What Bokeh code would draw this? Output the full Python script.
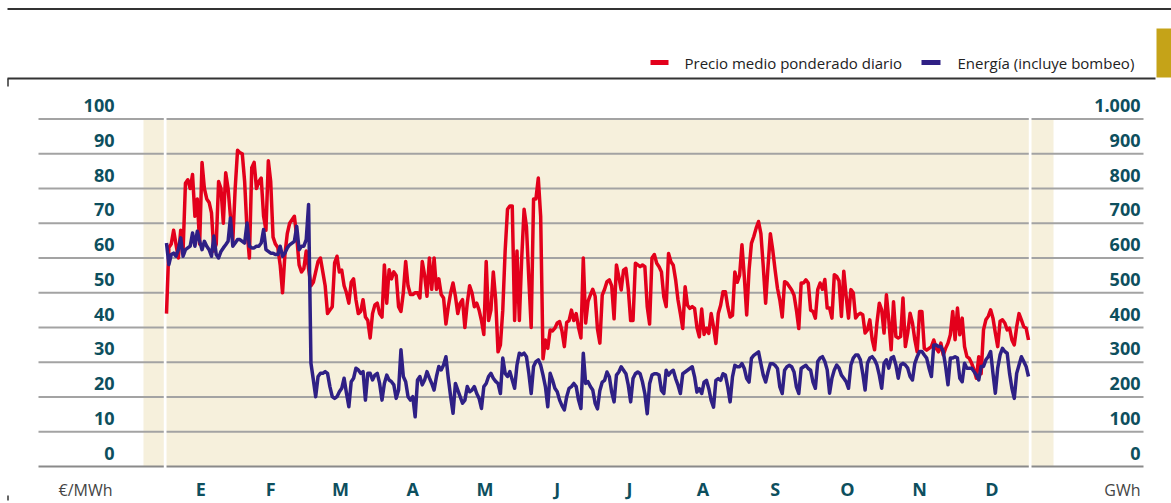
from bokeh.plotting import figure
from bokeh.models import Range1d
from bokeh.core.properties import value
from bokeh.embed import file_html
from bokeh.resources import INLINE

# ---------------- data ----------------
# Precio medio ponderado diario (EUR/MWh), one value per day
price_jan = [44, 63, 64, 68, 64, 60, 68, 62, 81.5, 82.5, 80, 84, 72, 77, 64, 87.5, 80, 77, 76, 73,
             62, 64, 82, 80, 70, 84.5, 80, 72, 65, 80, 91]
price_feb = [90.3, 90, 82, 68, 60, 86, 87.5, 80, 82, 83, 72, 68, 88, 82, 66, 64, 63, 58, 50, 61,
             67, 70, 71, 72, 66, 58, 56, 57]
price_mar = [62, 57, 52, 53, 56, 59, 60, 56, 52, 44, 45, 46, 58.6, 60.5, 56, 56.5, 52, 50, 47, 53,
             54, 48, 44, 44.6, 48, 43, 42, 37, 44, 46.5, 47]
price_apr = [44, 43, 58, 47, 56.6, 54, 56, 55, 46, 44.6, 50, 59, 52, 49.5, 49.5, 50, 50, 48.5, 59, 55,
             49, 60, 51, 60, 51, 54, 49.5, 48.5, 41, 46]
price_may = [50, 52.8, 49, 44, 47, 48, 40, 47, 52, 50, 46, 47, 45, 42, 38, 59, 42, 45, 56, 48,
             33, 35, 45, 62, 74, 75, 75, 42, 62, 42, 60]
price_jun = [74, 69, 54, 40, 77, 77, 83, 72, 31, 36.4, 34, 39.3, 39, 39.8, 41.3, 41.7, 39, 34.5, 41.5, 42,
             45, 42, 44, 40, 37, 60, 41.3, 47.5, 49.4, 51]
price_jul = [49, 39.5, 35.5, 49.3, 51, 53.2, 53.7, 52, 42.5, 58, 54.6, 50.8, 56.5, 57, 51, 42, 42, 58.5, 58, 57.5,
             58, 57.5, 46, 41, 60, 61, 58.5, 57.5, 56, 48.8, 46]
price_aug = [61.3, 58.9, 57.9, 53.7, 47.9, 44, 39.7, 51.7, 46.4, 45.5, 46, 45.5, 40, 37.3, 45.3, 38, 39.8, 38.3, 44, 40.2,
             35.4, 44, 46.4, 50.3, 50.3, 46, 43, 43.5, 56, 53, 55]
price_sep = [63.8, 54.6, 43.6, 56.5, 64.2, 66.2, 68.6, 70.5, 67, 57.5, 47, 57.5, 67, 62.3, 56.5, 51.3, 47.9, 43, 53.2, 52.8,
             51.8, 50.8, 49.3, 45, 39.7, 52.8, 52.8, 53.7, 52.8, 45]
price_oct = [44.6, 42.7, 50.9, 52.8, 51, 53.8, 45.6, 45.6, 42.7, 55.2, 54.7, 53.4, 43.2, 56.2, 49, 42.7, 50.9, 50, 42.7, 43.7,
             44.1, 43.7, 38.4, 39.3, 42.2, 36.5, 33.6, 41.3, 47, 45.1, 38.4]
price_nov = [49.4, 42.2, 33.6, 47.4, 37.4, 37, 37.4, 48.5, 34.5, 38.4, 44.1, 41.3, 36.5, 33, 44.6, 44.6, 34, 33.5, 34, 34.5,
             36.4, 34, 33, 35.5, 32.1, 34, 35.5, 37.9, 44.6, 36.5]
price_dec = [45.6, 37.9, 42.7, 34.5, 31.6, 31.1, 29.7, 27.8, 25.4, 31.6, 26.7, 39.3, 42.2, 43.2, 45.1, 42.7, 38.4, 34.5, 41.8, 42.2,
             41.3, 39.3, 39.8, 36.4, 35, 40.2, 44, 42.2, 40.2, 39.8, 36.4]

# Energia (incluye bombeo), GWh per day
energy_jan = [643, 581, 610, 614, 605, 624, 658, 605, 624, 629, 634, 672, 634, 677, 648, 624, 648, 634, 624, 605,
              663, 610, 600, 619, 629, 638, 648, 715, 634, 643, 653]
energy_feb = [653, 648, 643, 701, 634, 629, 629, 634, 634, 643, 682, 624, 619, 614, 614, 610, 610, 634, 605, 614,
              629, 638, 643, 648, 691, 624, 634, 634]
energy_mar = [653, 754, 297, 250, 201, 259, 268, 268, 273, 268, 230, 201, 196, 201, 215, 225, 254, 211, 172, 244,
              254, 283, 278, 268, 273, 191, 268, 268, 249, 263, 268]
energy_apr = [239, 191, 239, 263, 249, 244, 235, 196, 220, 336, 259, 244, 201, 191, 201, 143, 249, 259, 235, 249,
              273, 255, 239, 220, 259, 288, 278, 292, 316, 254]
energy_may = [201, 153, 239, 220, 201, 182, 191, 230, 215, 220, 230, 210, 196, 167, 230, 239, 259, 268, 254, 245,
              239, 210, 312, 268, 259, 273, 249, 225, 292, 326, 321]
energy_jun = [326, 316, 268, 210, 288, 302, 307, 292, 263, 230, 172, 268, 249, 225, 215, 191, 175, 163, 201, 225,
              230, 239, 230, 191, 167, 326, 239, 244, 230, 220]
energy_jul = [182, 166, 219, 243, 248, 272, 258, 214, 186, 263, 272, 287, 277, 267, 234, 186, 253, 267, 272, 267,
              243, 210, 152, 238, 263, 267, 267, 263, 219, 210, 277]
energy_aug = [263, 272, 277, 253, 234, 210, 267, 272, 277, 282, 287, 258, 214, 224, 210, 243, 248, 224, 190, 171,
              248, 253, 248, 267, 263, 229, 186, 258, 291, 287, 287]
energy_sep = [296, 282, 253, 243, 311, 320, 325, 330, 296, 263, 243, 272, 296, 296, 291, 282, 229, 210, 277, 287,
              291, 287, 272, 229, 210, 282, 287, 291, 282, 277]
energy_oct = [243, 225, 302, 312, 316, 302, 278, 211, 254, 278, 292, 283, 263, 254, 244, 225, 292, 312, 321, 321,
              307, 268, 220, 297, 312, 316, 307, 292, 263, 225, 297]
energy_nov = [307, 283, 312, 316, 292, 254, 292, 297, 292, 283, 259, 249, 297, 316, 331, 331, 321, 312, 283, 259,
              350, 350, 345, 345, 331, 288, 235, 312, 312, 316]
energy_dec = [312, 254, 244, 297, 283, 283, 283, 273, 263, 249, 288, 288, 307, 316, 331, 268, 211, 283, 321, 340,
              331, 326, 268, 225, 196, 268, 292, 316, 302, 288, 259]

months = ["E", "F", "M", "A", "M", "J", "J", "A", "S", "O", "N", "D"]
price_ticks = [0, 10, 20, 30, 40, 50, 60, 70, 80, 90, 100]
energy_tick_labels = ["0", "100", "200", "300", "400", "500", "600", "700", "800", "900", "1.000"]
legend_labels = ["Precio medio ponderado diario", "Energía (incluye bombeo)"]

price = (price_jan + price_feb + price_mar + price_apr + price_may + price_jun +
         price_jul + price_aug + price_sep + price_oct + price_nov + price_dec)
energy = (energy_jan + energy_feb + energy_mar + energy_apr + energy_may + energy_jun +
          energy_jul + energy_aug + energy_sep + energy_oct + energy_nov + energy_dec)
days = list(range(len(price)))
month_len = [31, 28, 31, 30, 31, 30, 31, 31, 30, 31, 30, 31]

# ---------------- layout helpers (picture pixels -> data units) ----------------
W, H = 1171, 503
PX0, PXD = 166.0, (1028.0 - 166.0) / 364.0
PY0, PYV = 466.0, 3.475


def X(px):
    return (px - PX0) / PXD


def Y(py):
    return (PY0 - py) / PYV


RED = "#E3001B"
BLUE = "#2F2085"
TEAL = "#0D4F5E"
BEIGE = "#F6F0DC"
GRID = "#A3A3A3"
GOLD = "#C5A318"
FONT = value("Open Sans")

p = figure(width=W, height=H, output_backend="svg", toolbar_location=None,
           x_range=Range1d(X(0), X(W)), y_range=Range1d(Y(H), Y(0)),
           x_axis_type=None, y_axis_type=None, min_border=0)
p.extra_y_ranges = {"gwh": Range1d(Y(H) * 10, Y(0) * 10)}
p.grid.visible = False
p.outline_line_color = None
p.background_fill_color = "white"
p.border_fill_color = "white"

# beige plot band
p.quad(left=[X(143)], right=[X(1053)], top=[Y(118.5)], bottom=[0], color=BEIGE, line_color=None)

# horizontal grid lines
gx0, gx1 = X(38), X(1143)
p.segment(x0=[gx0] * 10, x1=[gx1] * 10, y0=price_ticks[1:], y1=price_ticks[1:],
          line_color=GRID, line_width=2)
p.segment(x0=[gx0], x1=[gx1], y0=[0], y1=[0], line_color="#8A8A8A", line_width=2)

# white separators
p.quad(left=[X(163.3), X(1028.3)], right=[X(166), X(1031)], top=[Y(117), Y(117)],
       bottom=[Y(467.5), Y(467.5)], color="white", line_color=None)

# series
p.line(days, price, line_color=RED, line_width=3.5, line_join="round")
p.line(days, energy, y_range_name="gwh", line_color=BLUE, line_width=3.5, line_join="round")

# tick labels
lab_off = 13.5 / PYV
p.text(x=[X(114)] * 11, y=[v + lab_off for v in price_ticks], text=[str(v) for v in price_ticks],
       text_font=FONT, text_font_style="bold", text_font_size="18px", text_color=TEAL,
       text_align="right", text_baseline="middle")
p.text(x=[X(1140)] * 11, y=[v + lab_off for v in price_ticks], text=energy_tick_labels,
       text_font=FONT, text_font_style="bold", text_font_size="18px", text_color=TEAL,
       text_align="right", text_baseline="middle")

# month labels (centred on each month)
starts = [sum(month_len[:i]) for i in range(12)]
mx = [s + L / 2 - 1 for s, L in zip(starts, month_len)]
p.text(x=mx, y=[Y(488)] * 12, text=months, text_font=FONT, text_font_style="bold",
       text_font_size="18px", text_color=TEAL, text_align="center", text_baseline="middle")

# units
p.text(x=[X(112), X(1140)], y=[Y(489)] * 2, text=["€/MWh", "GWh"], text_font=FONT,
       text_font_size="16px", text_color="#444444", text_align="right", text_baseline="middle")

# frame lines
p.segment(x0=[X(7)], x1=[X(1175)], y0=[Y(8.5)], y1=[Y(8.5)], line_color="#333333", line_width=2)
p.segment(x0=[X(7)], x1=[X(1155)], y0=[Y(78)], y1=[Y(78)], line_color="#333333", line_width=2)
p.segment(x0=[X(7.5)], x1=[X(7.5)], y0=[Y(78)], y1=[Y(86)], line_color="#333333", line_width=1.5)
p.segment(x0=[X(7.5)], x1=[X(7.5)], y0=[Y(495)], y1=[Y(500)], line_color="#333333", line_width=1.5)
p.quad(left=[X(1156)], right=[X(1175)], top=[Y(28)], bottom=[Y(77)], color=GOLD, line_color=None)

# legend
p.segment(x0=[X(650), X(921)], x1=[X(668), X(940)], y0=[Y(62)] * 2, y1=[Y(62)] * 2,
          line_color=[RED, BLUE], line_width=5)
p.text(x=[X(684), X(957)], y=[Y(62)] * 2, text=legend_labels, text_font=FONT,
       text_font_size="15px", text_color="#222222", text_align="left", text_baseline="middle")

open("out.html", "w").write(file_html(p, INLINE))
